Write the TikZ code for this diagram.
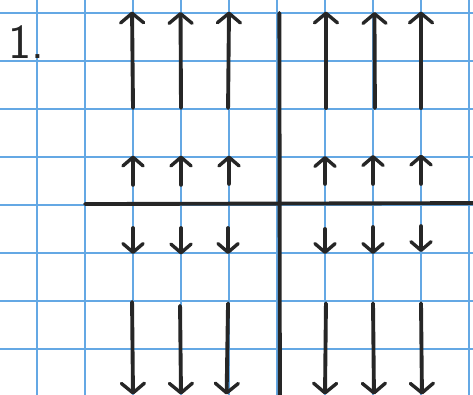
\documentclass[tikz,border=0pt]{standalone}
\usetikzlibrary{arrows.meta}
\definecolor{gridblue}{RGB}{100,168,228}
\definecolor{inkgray}{RGB}{38,38,38}

\begin{document}
\begin{tikzpicture}[x=1cm,y=1cm]
\tikzset{
  gridline/.style={gridblue,line width=0.9pt},
  axisline/.style={inkgray,line width=2.3pt,line cap=round},
  fieldarrow/.style={inkgray,line width=2.3pt,line cap=round,
    -{Straight Barb[length=2mm,width=4.8mm,line width=2pt,round]}},
  shortarrow/.style={fieldarrow,-{Straight Barb[length=1.8mm,width=4.2mm,line width=2pt,round]}}
}
\useasboundingbox[fill=white] (-5.771,-3.958) rectangle (4.083,4.271);
\draw[gridline] (-5.771,-3.958) grid (4.083,4.271);
% label
\node[inkgray,font=\sffamily\fontsize{29}{32}\selectfont,anchor=base west,inner sep=0pt] (lbl) at (-5.60,3.06) {1.};
% axes
\draw[axisline] (-4.00,0.02) -- (4.083,0.04);
\draw[axisline] (0.05,4.00) -- (0.06,-3.958);
% long arrows up
\draw[fieldarrow] (-3.00,2.02) -- (-3.02,4.03);
\draw[fieldarrow] (-2.00,2.02) -- (-2.01,4.02);
\draw[fieldarrow] (-1.02,2.02) -- (-1.00,4.03);
\draw[fieldarrow] (1.02,2.02) -- (1.02,4.03);
\draw[fieldarrow] (2.04,2.02) -- (2.03,4.02);
\draw[fieldarrow] (3.00,2.02) -- (3.00,4.03);
% short arrows up
\draw[shortarrow] (-3.00,0.42) -- (-3.00,1.03);
\draw[shortarrow] (-2.00,0.42) -- (-2.00,1.03);
\draw[shortarrow] (-1.00,0.44) -- (-1.00,1.03);
\draw[shortarrow] (1.00,0.44) -- (1.00,1.02);
\draw[shortarrow] (2.00,0.44) -- (2.00,1.04);
\draw[shortarrow] (3.00,0.44) -- (3.00,1.05);
% short arrows down
\draw[shortarrow] (-3.00,-0.48) -- (-3.00,-1.02);
\draw[shortarrow] (-2.00,-0.48) -- (-2.00,-1.03);
\draw[shortarrow] (-1.02,-0.48) -- (-1.02,-1.02);
\draw[shortarrow] (1.00,-0.50) -- (1.00,-1.02);
\draw[shortarrow] (2.00,-0.46) -- (2.00,-1.02);
\draw[shortarrow] (3.00,-0.44) -- (3.00,-0.98);
% long arrows down
\draw[fieldarrow] (-3.02,-2.02) -- (-3.00,-3.95);
\draw[fieldarrow] (-2.02,-2.10) -- (-2.00,-3.95);
\draw[fieldarrow] (-1.02,-2.05) -- (-1.05,-3.95);
\draw[fieldarrow] (1.02,-2.05) -- (1.00,-3.95);
\draw[fieldarrow] (2.00,-2.05) -- (2.02,-3.95);
\draw[fieldarrow] (3.00,-2.05) -- (3.02,-3.95);
\end{tikzpicture}
\end{document}
